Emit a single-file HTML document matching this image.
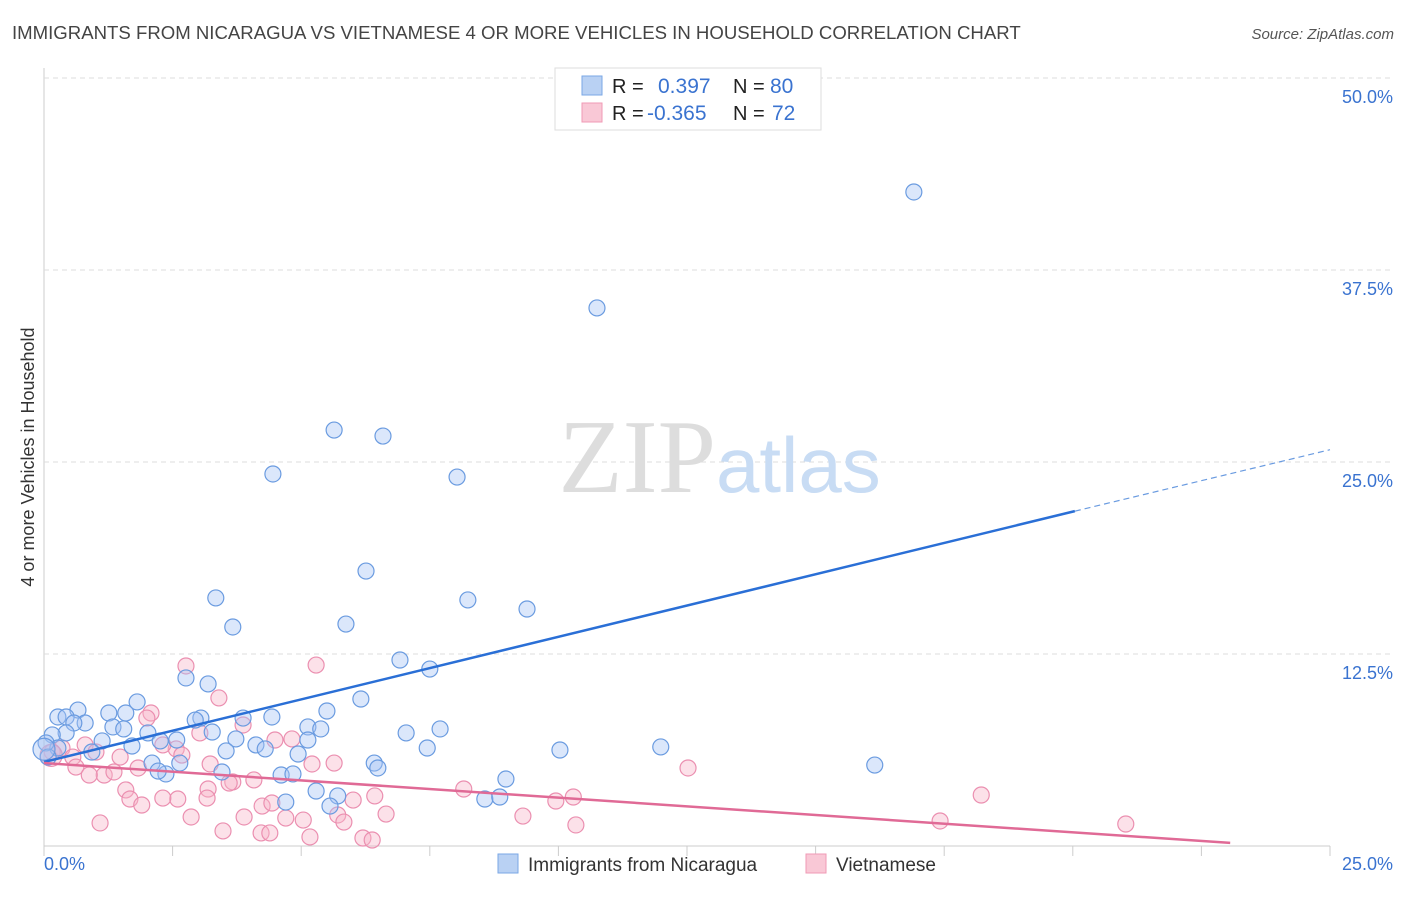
<!DOCTYPE html>
<html><head><meta charset="utf-8"><style>
body{margin:0;background:#fff;font-family:"Liberation Sans",sans-serif;}
</style></head><body>
<svg id="c" width="1406" height="892" xmlns="http://www.w3.org/2000/svg">
<text x="12" y="39" font-size="18.6" fill="#444">IMMIGRANTS FROM NICARAGUA VS VIETNAMESE 4 OR MORE VEHICLES IN HOUSEHOLD CORRELATION CHART</text>
<text x="1394" y="39" font-size="15" fill="#555" font-style="italic" text-anchor="end">Source: ZipAtlas.com</text>
<text x="34" y="457" font-size="18" fill="#333" text-anchor="middle" transform="rotate(-90 34 457)">4 or more Vehicles in Household</text>
<g id="grid"></g>
<text x="716" y="492" font-size="105" fill="#ddd" text-anchor="end" font-family="Liberation Serif,serif">ZIP</text>
<text x="716" y="492" font-size="78" fill="#c8dcf4">atlas</text>
<g id="pts"></g>
<g id="lines"></g>
<g>
<rect x="555" y="68" width="266" height="62" fill="#fff" stroke="#ddd"/>
<rect x="582" y="76" width="20" height="19" fill="#b9d1f3" stroke="#7aa7e6"/>
<rect x="582" y="103" width="20" height="19" fill="#f9c8d6" stroke="#f09ab5"/>
<text x="612" y="93" font-size="20" fill="#222">R =</text>
<text x="658" y="93" font-size="21" fill="#3a73d0">0.397</text>
<text x="733" y="93" font-size="20" fill="#222">N =</text>
<text x="770" y="93" font-size="21" fill="#3a73d0">80</text>
<text x="612" y="120" font-size="20" fill="#222">R =</text>
<text x="647" y="120" font-size="21" fill="#3a73d0">-0.365</text>
<text x="733" y="120" font-size="20" fill="#222">N =</text>
<text x="772" y="120" font-size="21" fill="#3a73d0">72</text>
</g>
<g>
<rect x="498" y="854" width="20" height="19" fill="#b9d1f3" stroke="#7aa7e6"/>
<text x="528" y="871" font-size="19" fill="#333">Immigrants from Nicaragua</text>
<rect x="806" y="854" width="20" height="19" fill="#f9c8d6" stroke="#f09ab5"/>
<text x="836" y="871" font-size="19" fill="#333">Vietnamese</text>
</g>
</svg>
<script>
const yTicks=[12.5,25,37.5,50];
const yTickLabels=["12.5%","25.0%","37.5%","50.0%"];
const xTickCount=10;
const blueX=[16.91,10.75,5.64,6.59,4.45,8.03,6.26,3.34,8.24,9.39,5.87,3.67,6.92,7.50,2.76,3.19,6.16,1.81,0.66,0.27,0.43,1.26,1.59,5.50,4.43,3.87,3.05,2.94,0.80,0.58,1.34,1.55,5.13,5.38,7.70,7.04,2.02,3.27,0.43,0.16,1.13,2.26,2.58,3.73,5.13,4.12,4.30,3.54,7.45,10.03,11.99,1.71,0.93,0.27,0.04,4.94,2.10,2.64,6.42,6.49,16.15,2.37,2.22,3.46,4.61,4.84,8.98,5.29,5.71,4.70,5.56,8.57,8.86,0.08,0.0];
const blueY=[42.58,35.03,27.08,26.69,24.22,24.02,17.90,16.15,16.02,15.43,14.45,14.26,12.11,11.52,10.94,10.55,9.57,9.38,8.85,8.40,8.40,8.66,8.66,8.79,8.40,8.33,8.33,8.20,8.01,8.01,7.75,7.62,7.75,7.62,7.62,7.36,7.36,7.42,7.36,7.23,6.84,6.84,6.90,6.97,6.90,6.58,6.32,6.19,6.38,6.25,6.45,6.51,6.12,6.38,6.71,5.99,5.40,5.40,5.40,5.08,5.27,4.69,4.88,4.82,4.62,4.69,4.36,3.58,3.26,2.86,2.60,3.06,3.19,5.79,6.3];
const pinkX=[2.76,5.29,3.40,2.08,2.00,3.87,3.03,4.82,4.49,2.57,2.68,2.31,0.80,1.01,0.35,0.16,0.56,1.48,0.62,1.17,0.88,1.36,1.83,3.23,5.64,5.21,3.67,4.08,3.60,8.16,12.52,18.22,3.19,1.59,1.67,1.90,2.60,2.31,3.17,4.24,4.43,6.43,6.01,10.29,9.95,5.71,6.65,9.31,2.86,3.89,4.70,5.04,5.83,1.09,10.34,17.42,21.03,3.48,4.22,4.39,5.17,6.20,6.38,0.14];
const pinkY=[11.72,11.78,9.64,8.66,8.33,7.88,7.36,6.97,6.90,6.32,5.92,6.58,6.58,6.12,6.38,6.12,5.79,5.79,5.14,4.62,4.62,4.82,5.08,5.34,5.40,5.34,4.17,4.30,4.10,3.71,5.08,3.32,3.71,3.65,3.06,2.67,3.06,3.12,3.12,2.60,2.80,3.26,2.99,3.19,2.93,2.02,2.08,1.95,1.89,1.89,1.82,1.69,1.56,1.50,1.37,1.63,1.43,0.98,0.85,0.85,0.59,0.52,0.39,5.9];
const blueTrend=[[0,5.47],[20.04,21.8],[25,25.8]];
const pinkTrend=[[0,5.4],[23.06,0.2]];
const X=v=>44+v*51.44, Y=v=>846-v*15.36;
const NS="http://www.w3.org/2000/svg";
function mk(t,a,p){const e=document.createElementNS(NS,t);for(const k in a)e.setAttribute(k,a[k]);p.appendChild(e);return e;}
const grid=document.getElementById('grid');
mk('line',{x1:44,y1:68,x2:44,y2:846,stroke:'#ccc'},grid);
mk('line',{x1:44,y1:846,x2:1330,y2:846,stroke:'#ccc'},grid);
yTicks.forEach((t,i)=>{
 const l=mk('line',{x1:44,y1:Y(t),x2:1394,y2:Y(t),stroke:'#ddd','stroke-dasharray':'5,4'},grid);
 
 
 const tx=mk('text',{x:1393,y:Y(t)+25,'font-size':18,fill:'#3a73d0','text-anchor':'end'},grid);
 tx.textContent=yTickLabels[i];
 
 
});
for(let i=0;i<=xTickCount;i++){
 const x=44+i*(1286/xTickCount);
 const l=mk('line',{x1:x,y1:846,x2:x,y2:856,stroke:'#ccc'},grid);
 
 
}
const xl=mk('text',{x:44,y:870,'font-size':18,fill:'#3a73d0'},grid);xl.textContent='0.0%';


const xr=mk('text',{x:1393,y:870,'font-size':18,fill:'#3a73d0','text-anchor':'end'},grid);xr.textContent='25.0%';


const pts=document.getElementById('pts');
pinkX.forEach((v,i)=>{const c=mk('circle',{cx:X(v),cy:Y(pinkY[i]),r:i==pinkX.length-1?11:8,fill:'rgba(248,180,200,0.4)',stroke:'#eb8fb0','stroke-width':1.2},pts);
 
 });
blueX.forEach((v,i)=>{const c=mk('circle',{cx:X(v),cy:Y(blueY[i]),r:i==blueX.length-1?11:8,fill:'rgba(164,194,244,0.4)',stroke:'#6a9be0','stroke-width':1.2},pts);
 
 });
const lines=document.getElementById('lines');
const b1=mk('line',{x1:X(blueTrend[0][0]),y1:Y(blueTrend[0][1]),x2:X(blueTrend[1][0]),y2:Y(blueTrend[1][1]),stroke:'#2a6fd6','stroke-width':2.5},lines);


const b2=mk('line',{x1:X(blueTrend[1][0]),y1:Y(blueTrend[1][1]),x2:X(blueTrend[2][0]),y2:Y(blueTrend[2][1]),stroke:'#6a9be0','stroke-width':1.2,'stroke-dasharray':'6,4'},lines);


const p1=mk('line',{x1:X(pinkTrend[0][0]),y1:Y(pinkTrend[0][1]),x2:X(pinkTrend[1][0]),y2:Y(pinkTrend[1][1]),stroke:'#e06a96','stroke-width':2.5},lines);


</script>
</body></html>
